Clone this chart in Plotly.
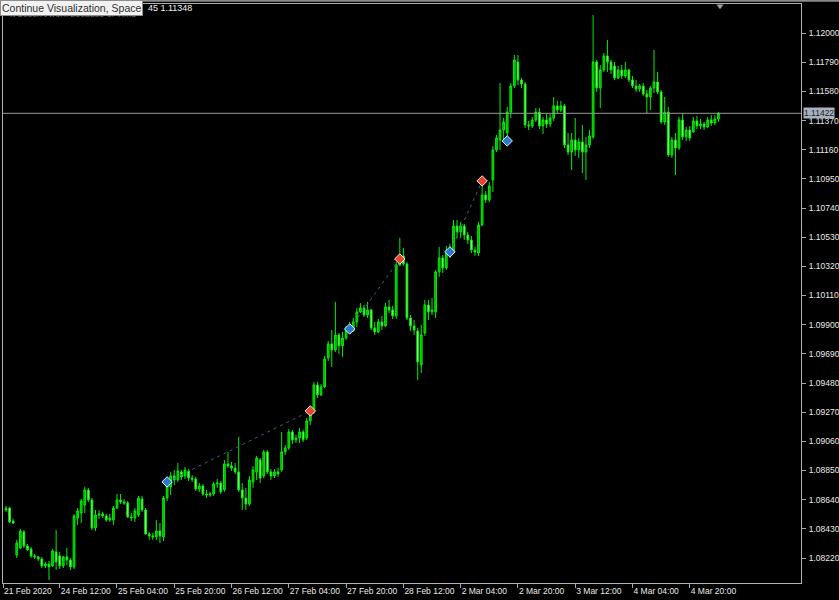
import plotly.graph_objects as go

# ---------------- data (EURUSD H1) ----------------
bar_index = list(range(200))

open_ = [
1.08566, 1.08580, 1.08487, 1.08242, 1.08292, 1.08408, 1.08307, 1.08285, 1.08235, 1.08228,
1.08213, 1.08163, 1.08177, 1.08163, 1.08264, 1.08235, 1.08163, 1.08228, 1.08206, 1.08156,
1.08508, 1.08544, 1.08602, 1.08710, 1.08638, 1.08436, 1.08530, 1.08537, 1.08523, 1.08494,
1.08494, 1.08580, 1.08638, 1.08624, 1.08616, 1.08516, 1.08508, 1.08530, 1.08645, 1.08566,
1.08393, 1.08379, 1.08372, 1.08415, 1.08372, 1.08652, 1.08732, 1.08811, 1.08782, 1.08840,
1.08811, 1.08847, 1.08796, 1.08789, 1.08717, 1.08739, 1.08681, 1.08674, 1.08681, 1.08753,
1.08760, 1.08710, 1.08897, 1.08883, 1.08868, 1.08840, 1.08710, 1.08652, 1.08609, 1.08768,
1.08840, 1.08926, 1.08811, 1.08984, 1.08840, 1.08811, 1.08840, 1.08854, 1.08984, 1.09012,
1.09128, 1.09070, 1.09084, 1.09128, 1.09084, 1.09207, 1.09272, 1.09466, 1.09394, 1.09452,
1.09660, 1.09761, 1.09718, 1.09826, 1.09747, 1.09804, 1.09862, 1.09855, 1.09920, 1.09992,
1.10020, 1.09970, 1.10006, 1.09876, 1.09848, 1.09920, 1.09891, 1.10028, 1.10006, 1.09963,
1.10330, 1.10395, 1.10337, 1.09948, 1.09891, 1.09855, 1.09610, 1.09840, 1.10042, 1.09992,
1.09992, 1.10280, 1.10381, 1.10308, 1.10424, 1.10424, 1.10611, 1.10568, 1.10611, 1.10546,
1.10510, 1.10438, 1.10416, 1.10618, 1.10834, 1.10798, 1.10942, 1.11158, 1.11230, 1.11302,
1.11280, 1.11431, 1.11619, 1.11792, 1.11662, 1.11633, 1.11338, 1.11331, 1.11374, 1.11431,
1.11331, 1.11374, 1.11345, 1.11388, 1.11475, 1.11446, 1.11475, 1.11194, 1.11144, 1.11230,
1.11158, 1.11216, 1.11144, 1.11194, 1.11252, 1.11792, 1.11604, 1.11734, 1.11835, 1.11792,
1.11763, 1.11676, 1.11734, 1.11691, 1.11734, 1.11662, 1.11619, 1.11597, 1.11619, 1.11561,
1.11540, 1.11604, 1.11648, 1.11576, 1.11360, 1.11431, 1.11122, 1.11230, 1.11172, 1.11374,
1.11252, 1.11302, 1.11288, 1.11367, 1.11331, 1.11345, 1.11324, 1.11374, 1.11352, 1.11381,
]

high_ = [
1.08595, 1.08588, 1.08501, 1.08350, 1.08429, 1.08422, 1.08321, 1.08300, 1.08249, 1.08235,
1.08228, 1.08192, 1.08199, 1.08285, 1.08422, 1.08264, 1.08235, 1.08292, 1.08220, 1.08537,
1.08580, 1.08645, 1.08732, 1.08724, 1.08652, 1.08566, 1.08566, 1.08552, 1.08537, 1.08537,
1.08595, 1.08681, 1.08681, 1.08645, 1.08631, 1.08544, 1.08580, 1.08667, 1.08667, 1.08580,
1.08408, 1.08400, 1.08494, 1.08472, 1.08667, 1.08775, 1.08840, 1.08854, 1.08904, 1.08854,
1.08876, 1.08861, 1.08818, 1.08804, 1.08760, 1.08753, 1.08710, 1.08696, 1.08768, 1.08789,
1.08775, 1.08926, 1.08984, 1.08912, 1.08904, 1.09092, 1.08760, 1.08724, 1.08811, 1.08883,
1.08955, 1.08940, 1.08998, 1.08998, 1.08861, 1.08861, 1.08868, 1.09128, 1.09034, 1.09149,
1.09142, 1.09106, 1.09156, 1.09142, 1.09228, 1.09300, 1.09488, 1.09488, 1.09473, 1.09675,
1.09783, 1.09862, 1.10064, 1.09840, 1.09848, 1.09891, 1.09920, 1.09948, 1.10020, 1.10056,
1.10042, 1.10064, 1.10013, 1.09920, 1.09941, 1.09963, 1.10056, 1.10078, 1.10035, 1.10352,
1.10524, 1.10452, 1.10352, 1.09970, 1.09934, 1.09876, 1.09898, 1.10078, 1.10078, 1.10092,
1.10294, 1.10460, 1.10402, 1.10467, 1.10481, 1.10654, 1.10654, 1.10640, 1.10625, 1.10568,
1.10539, 1.10460, 1.10640, 1.10906, 1.10863, 1.10928, 1.11187, 1.11266, 1.11640, 1.11388,
1.11468, 1.11640, 1.11842, 1.11842, 1.11676, 1.11648, 1.11367, 1.11396, 1.11460, 1.11460,
1.11396, 1.11417, 1.11417, 1.11539, 1.11511, 1.11511, 1.11489, 1.11280, 1.11280, 1.11388,
1.11244, 1.11338, 1.11252, 1.11302, 1.12130, 1.11806, 1.11770, 1.11856, 1.11950, 1.11806,
1.11792, 1.11763, 1.11770, 1.11792, 1.11741, 1.11691, 1.11662, 1.11633, 1.11640, 1.11590,
1.11619, 1.11878, 1.11720, 1.11590, 1.11540, 1.11468, 1.11252, 1.11280, 1.11396, 1.11424,
1.11324, 1.11331, 1.11396, 1.11403, 1.11381, 1.11360, 1.11396, 1.11410, 1.11410, 1.11431,
]

low_ = [
1.08552, 1.08472, 1.08465, 1.08220, 1.08285, 1.08292, 1.08271, 1.08220, 1.08213, 1.08199,
1.08148, 1.08148, 1.08062, 1.08156, 1.08134, 1.08141, 1.08148, 1.08170, 1.08134, 1.08141,
1.08458, 1.08472, 1.08544, 1.08624, 1.08422, 1.08415, 1.08501, 1.08508, 1.08480, 1.08480,
1.08458, 1.08573, 1.08609, 1.08602, 1.08508, 1.08487, 1.08480, 1.08516, 1.08552, 1.08386,
1.08350, 1.08350, 1.08350, 1.08328, 1.08343, 1.08631, 1.08674, 1.08746, 1.08768, 1.08782,
1.08789, 1.08775, 1.08768, 1.08703, 1.08696, 1.08667, 1.08652, 1.08660, 1.08667, 1.08724,
1.08681, 1.08696, 1.08868, 1.08847, 1.08825, 1.08696, 1.08566, 1.08566, 1.08595, 1.08724,
1.08782, 1.08760, 1.08796, 1.08825, 1.08782, 1.08796, 1.08804, 1.08840, 1.08962, 1.08998,
1.09041, 1.09048, 1.09048, 1.09056, 1.09070, 1.09178, 1.09257, 1.09372, 1.09387, 1.09444,
1.09639, 1.09596, 1.09704, 1.09689, 1.09668, 1.09790, 1.09833, 1.09848, 1.09884, 1.09984,
1.09956, 1.09948, 1.09862, 1.09826, 1.09840, 1.09862, 1.09884, 1.09984, 1.09941, 1.09941,
1.10323, 1.10323, 1.09934, 1.09855, 1.09826, 1.09502, 1.09552, 1.09819, 1.09934, 1.09970,
1.09948, 1.10244, 1.10272, 1.10294, 1.10381, 1.10409, 1.10524, 1.10524, 1.10510, 1.10481,
1.10416, 1.10395, 1.10395, 1.10611, 1.10776, 1.10784, 1.10856, 1.11144, 1.11158, 1.11230,
1.11216, 1.11388, 1.11604, 1.11626, 1.11604, 1.11316, 1.11302, 1.11316, 1.11360, 1.11309,
1.11273, 1.11316, 1.11324, 1.11367, 1.11417, 1.11432, 1.11172, 1.11122, 1.11014, 1.11115,
1.11100, 1.10992, 1.10942, 1.11172, 1.11237, 1.11576, 1.11460, 1.11720, 1.11720, 1.11705,
1.11662, 1.11669, 1.11669, 1.11676, 1.11648, 1.11604, 1.11576, 1.11576, 1.11547, 1.11424,
1.11446, 1.11568, 1.11561, 1.11345, 1.11338, 1.11108, 1.11100, 1.10978, 1.11158, 1.11230,
1.11223, 1.11223, 1.11280, 1.11309, 1.11309, 1.11302, 1.11316, 1.11331, 1.11338, 1.11360,
]

close_ = [
1.08580, 1.08480, 1.08472, 1.08328, 1.08415, 1.08307, 1.08278, 1.08235, 1.08228, 1.08213,
1.08163, 1.08177, 1.08156, 1.08271, 1.08192, 1.08163, 1.08228, 1.08206, 1.08156, 1.08523,
1.08559, 1.08631, 1.08710, 1.08638, 1.08436, 1.08530, 1.08537, 1.08523, 1.08494, 1.08508,
1.08580, 1.08638, 1.08624, 1.08616, 1.08516, 1.08508, 1.08559, 1.08652, 1.08566, 1.08393,
1.08379, 1.08372, 1.08415, 1.08379, 1.08652, 1.08746, 1.08811, 1.08782, 1.08847, 1.08804,
1.08854, 1.08796, 1.08789, 1.08717, 1.08739, 1.08681, 1.08674, 1.08681, 1.08753, 1.08760,
1.08696, 1.08897, 1.08883, 1.08868, 1.08840, 1.08710, 1.08652, 1.08609, 1.08782, 1.08854,
1.08940, 1.08796, 1.08984, 1.08840, 1.08811, 1.08840, 1.08825, 1.08984, 1.09012, 1.09128,
1.09070, 1.09084, 1.09128, 1.09070, 1.09207, 1.09279, 1.09466, 1.09394, 1.09452, 1.09653,
1.09761, 1.09718, 1.09826, 1.09747, 1.09804, 1.09862, 1.09855, 1.09920, 1.09992, 1.10020,
1.09970, 1.10006, 1.09876, 1.09848, 1.09920, 1.09891, 1.10028, 1.10006, 1.09963, 1.10330,
1.10395, 1.10337, 1.09948, 1.09891, 1.09862, 1.09632, 1.09826, 1.10042, 1.09992, 1.10006,
1.10280, 1.10381, 1.10308, 1.10424, 1.10409, 1.10611, 1.10568, 1.10611, 1.10546, 1.10510,
1.10438, 1.10424, 1.10618, 1.10834, 1.10798, 1.10899, 1.11158, 1.11244, 1.11302, 1.11360,
1.11431, 1.11619, 1.11806, 1.11662, 1.11633, 1.11338, 1.11331, 1.11374, 1.11431, 1.11331,
1.11374, 1.11345, 1.11388, 1.11475, 1.11446, 1.11475, 1.11194, 1.11144, 1.11230, 1.11158,
1.11216, 1.11144, 1.11194, 1.11259, 1.11792, 1.11604, 1.11734, 1.11835, 1.11792, 1.11734,
1.11676, 1.11734, 1.11691, 1.11734, 1.11662, 1.11619, 1.11597, 1.11619, 1.11561, 1.11540,
1.11604, 1.11648, 1.11576, 1.11360, 1.11431, 1.11122, 1.11230, 1.11172, 1.11374, 1.11252,
1.11302, 1.11244, 1.11367, 1.11331, 1.11345, 1.11324, 1.11374, 1.11352, 1.11381, 1.11422,
]

# trade arrows (entry = blue, exit = red)
entry_bars = [45, 96, 124, 140]
entry_prices = [1.08768, 1.09869, 1.10424, 1.11223]
exit_bars = [85, 110, 133]
exit_prices = [1.09279, 1.10373, 1.10935]

bid_price = 1.11422

x_tick_pos = [-0.83, 15, 31, 47, 63, 79, 95, 111, 127, 143, 159, 175, 191]
x_tick_text = ["21 Feb 2020", "24 Feb 12:00", "25 Feb 04:00", "25 Feb 20:00",
               "26 Feb 12:00", "27 Feb 04:00", "27 Feb 20:00", "28 Feb 12:00",
               "2 Mar 04:00", "2 Mar 20:00", "3 Mar 12:00", "4 Mar 04:00", "4 Mar 20:00"]
y_tick_vals = [1.08220, 1.08430, 1.08640, 1.08850, 1.09060, 1.09270, 1.09480,
               1.09690, 1.09900, 1.10110, 1.10320, 1.10530, 1.10740, 1.10950,
               1.11160, 1.11370, 1.11580, 1.11790, 1.12000]

# ---------------- figure ----------------
FONT = "Liberation Sans, Arial, sans-serif"
fig = go.Figure()

fig.add_trace(go.Candlestick(
    x=bar_index, open=open_, high=high_, low=low_, close=close_,
    increasing=dict(line=dict(color="#00ee00", width=1), fillcolor="#00b000"),
    decreasing=dict(line=dict(color="#00ee00", width=1), fillcolor="#aaf5a0"),
    whiskerwidth=0, showlegend=False, hoverinfo="skip",
))

# dotted connection lines entry -> exit
for k in range(len(exit_bars)):
    fig.add_trace(go.Scatter(
        x=[entry_bars[k], exit_bars[k]], y=[entry_prices[k], exit_prices[k]],
        mode="lines", line=dict(color="#34608f", width=1, dash="3px,4px"),
        showlegend=False, hoverinfo="skip"))

fig.add_trace(go.Scatter(
    x=entry_bars, y=entry_prices, mode="markers",
    marker=dict(symbol="diamond", size=8, color="#2a78d0",
                line=dict(color="#e0f0ff", width=1)),
    showlegend=False, hoverinfo="skip"))
fig.add_trace(go.Scatter(
    x=exit_bars, y=exit_prices, mode="markers",
    marker=dict(symbol="diamond", size=8, color="#e8432f",
                line=dict(color="#ffe0d8", width=1)),
    showlegend=False, hoverinfo="skip"))

fig.update_layout(
    width=839, height=600,
    margin=dict(l=3, r=38, t=4, b=17, pad=0, autoexpand=False),
    paper_bgcolor="black", plot_bgcolor="black",
    font=dict(family=FONT, size=9, color="#e8e8e8"),
    showlegend=False, hovermode=False,
    xaxis=dict(
        range=[-0.84, 222.07], tickvals=x_tick_pos, ticktext=x_tick_text,
        ticks="outside", ticklen=4, tickcolor="#a8a8a8", tickangle=0,
        ticklabelposition="outside right", automargin=False,
        showgrid=False, zeroline=False, showline=True, mirror=True,
        linecolor="#b0b0b0", linewidth=1,
        tickfont=dict(family=FONT, size=8.5, color="#e8e8e8"),
        rangeslider=dict(visible=False), fixedrange=True,
    ),
    yaxis=dict(
        range=[1.08040, 1.12209], side="right", tickvals=y_tick_vals,
        tickformat=".5f", ticks="outside", ticklen=4, tickcolor="#a8a8a8",
        ticklabelstandoff=1, automargin=False,
        showgrid=False, zeroline=False, showline=True, mirror=True,
        linecolor="#b0b0b0", linewidth=1,
        tickfont=dict(family=FONT, size=8.5, color="#e8e8e8"),
        fixedrange=True,
    ),
)

# bid line and its price label
fig.add_shape(type="line", xref="paper", x0=0, x1=1, yref="y", y0=bid_price, y1=bid_price,
              line=dict(color="#9a9a9a", width=1))
fig.add_annotation(x=1, xref="paper", xanchor="left", xshift=2, y=bid_price, yref="y",
                   text=f"{bid_price:.5f}", showarrow=False, bgcolor="#a8b2be",
                   font=dict(family=FONT, size=8.5, color="#222222"), borderpad=0)

# top strip line and shift marker
fig.add_shape(type="line", xref="paper", yref="paper", x0=-0.004, x1=1.048, y0=1.0055, y1=1.0055,
              line=dict(color="#8a8a8a", width=2))
fig.add_shape(type="path", xref="paper", yref="paper",
              path="M 0.8940 0.9990 L 0.9030 0.9990 L 0.8985 0.9910 Z",
              fillcolor="#a0a0a0", line=dict(width=0))

# header texts
fig.add_annotation(x=(8 - 3) / 798, xref="paper", xanchor="left", y=1 - (14 - 4) / 579, yref="paper",
                   yanchor="middle", text="It doesn't work because of Time", showarrow=False,
                   font=dict(family=FONT, size=9, color="#6a6a6a"))
fig.add_annotation(x=(146 - 3) / 798, xref="paper", xanchor="left", y=1 - (8 - 4) / 579, yref="paper",
                   yanchor="middle", text="45 1.11348", showarrow=False,
                   font=dict(family=FONT, size=9, color="#f0f0f0"))
fig.add_annotation(x=-3 / 798, xref="paper", xanchor="left", y=1 + 4 / 579, yref="paper",
                   yanchor="top", text="Continue Visualization, Space", showarrow=False,
                   bgcolor="#f2f2f2", bordercolor="#8c8c8c", borderwidth=1, borderpad=1,
                   font=dict(family=FONT, size=10.5, color="#303030"))

fig.write_html(
    "out.html",
    config={"displayModeBar": False, "staticPlot": True},
    post_script="document.body.style.margin='0';document.body.style.padding='0';"
                "document.body.style.background='black';document.body.style.overflow='hidden';",
)
